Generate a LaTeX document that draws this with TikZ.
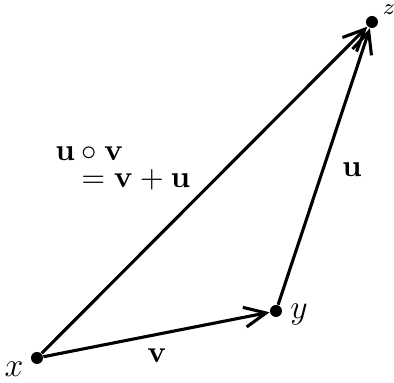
\documentclass[tikz,border=0pt]{standalone}
\usepackage{tikz}
\usetikzlibrary{positioning, arrows.meta}
\usepackage{amsmath,amssymb}

\begin{document}
\begin{tikzpicture}[
        x=0.0125cm, y=-0.0125cm,
        pt/.style={circle, fill=black, inner sep=0pt, minimum size=1.5mm},
        vec/.style={-{Straight Barb[length=2.7mm, width=2.5mm, line width=1.1pt]}, line width=1.1pt},
        lbl/.style={inner sep=1pt},
        bold/.style={inner sep=1pt, font=\fontsize{11}{13}\selectfont},
    ]
    \useasboundingbox (0,0) rectangle (394,383);

    % ===== Points =====
    \node[pt] (X) at (37,358) {};
    \node[pt] (Y) at (276,311) {};
    \node[pt] (Z) at (372,22) {};

    \node[lbl, font=\large] (LX) at (14,369) {$x$};
    \node[lbl, font=\large] (LY) at (299,315) {$y$};
    \node[lbl, font=\footnotesize] (LZ) at (389,10) {$z$};

    % ===== Vectors =====
    \draw[vec] (X) -- (Y);
    \draw[vec] (Y) -- (Z);
    \draw[vec] (X) -- (Z);

    % ===== Labels =====
    \node[bold] (LV) at (157,356) {$\mathbf{v}$};
    \node[bold] (LU) at (352,170) {$\mathbf{u}$};
    \node[bold, anchor=west] (LUV) at (52,154) {$\mathbf{u}\circ\mathbf{v}$};
    \node[bold, anchor=west] (LSUM) at (78,180) {$=\mathbf{v}+\mathbf{u}$};

\end{tikzpicture}
\end{document}
